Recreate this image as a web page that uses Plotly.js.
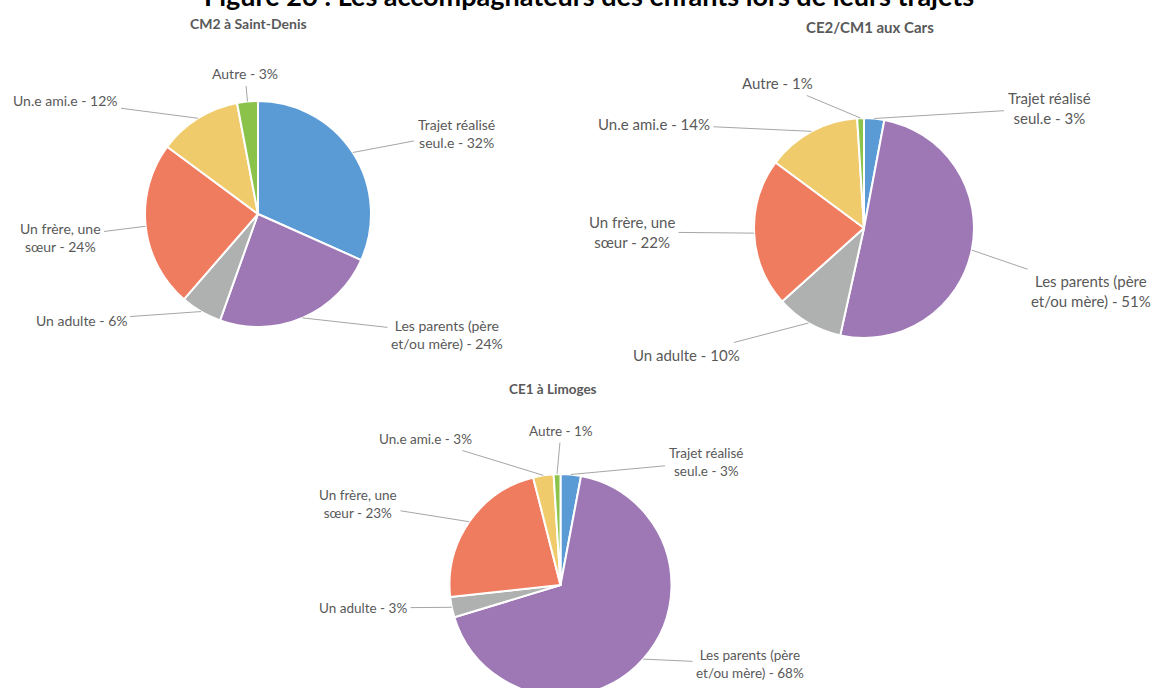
<!DOCTYPE html>
<html><head><meta charset="utf-8">
<script src="https://cdn.plot.ly/plotly-3.0.1.min.js"></script>
<style>html,body{margin:0;padding:0;overflow:hidden;background:#fff}#chart{width:1157px;height:700px}</style>
</head><body><div id="chart"></div>
<script>
// ---- data ----
const categories = ["Trajet réalisé seul.e", "Les parents (père et/ou mère)", "Un adulte", "Un frère, une sœur", "Un.e ami.e", "Autre"];
const labelLines = ["Trajet réalisé<br>seul.e", "Les parents (père<br>et/ou mère)", "Un adulte", "Un frère, une<br>sœur", "Un.e ami.e", "Autre"];
const sliceColors = ["#5B9BD5", "#9E78B5", "#AEB1B0", "#F07C60", "#F0CB6C", "#8BC34A"];
const titleMain = "Figure 26 : Les accompagnateurs des enfants lors de leurs trajets";
const pieTitles = ["CM2 à Saint-Denis", "CE2/CM1 aux Cars", "CE1 à Limoges"];
const valuesSaintDenis = [32, 24, 6, 24, 12, 3];
const valuesCars = [3, 51, 10, 22, 14, 1];
const valuesLimoges = [3, 68, 3, 23, 3, 1];

// ---- layout config (pixels) ----
const W = 1157, H = 700;
const FONT = "Lato, 'Open Sans', sans-serif";
const pies = [
  {values: valuesSaintDenis, title: pieTitles[0], cx: 258, cy: 214, r: 113, titlePos: [249, 24], tfs: 14, fs: 14,
   labelPos: [[456, 133], [447, 334], [81, 320], [60, 237], [65, 101], [245, 74]]},
  {values: valuesCars, title: pieTitles[1], cx: 864, cy: 228, r: 110, titlePos: [870, 27], tfs: 15, fs: 15,
   labelPos: [[1049, 108], [1091, 291], [686, 355], [632, 232], [654, 124], [777, 83]]},
  {values: valuesLimoges, title: pieTitles[2], cx: 560.5, cy: 585, r: 111, titlePos: [553, 389], tfs: 13.5, fs: 13.5,
   labelPos: [[706, 462], [750, 664], [363, 608], [358, 504], [425, 439], [561, 431]]}
];

const traces = [];
const annotations = [];
pies.forEach(p => {
  traces.push({
    type: 'pie', values: p.values, labels: categories, sort: false, direction: 'clockwise', rotation: 0,
    marker: {colors: sliceColors, line: {color: '#ffffff', width: 2}},
    textinfo: 'none', hoverinfo: 'label+percent', showlegend: false,
    domain: {x: [(p.cx - p.r) / W, (p.cx + p.r) / W], y: [1 - (p.cy + p.r) / H, 1 - (p.cy - p.r) / H]}
  });
  annotations.push({
    xref: 'paper', yref: 'paper', x: p.titlePos[0] / W, y: 1 - p.titlePos[1] / H,
    xanchor: 'center', yanchor: 'middle', showarrow: false,
    text: '<b>' + p.title + '</b>', font: {family: FONT, size: p.tfs, color: '#595959'}
  });
  const total = p.values.reduce((a, b) => a + b, 0);
  let cum = 0;
  p.values.forEach((v, i) => {
    const theta = (cum + v / 2) / total * 2 * Math.PI;
    cum += v;
    const px = p.cx + p.r * Math.sin(theta);
    const py = p.cy - p.r * Math.cos(theta);
    const [tx, ty] = p.labelPos[i];
    annotations.push({
      xref: 'paper', yref: 'paper', x: px / W, y: 1 - py / H,
      axref: 'pixel', ayref: 'pixel', ax: tx - px, ay: ty - py,
      showarrow: true, arrowhead: 0, arrowwidth: 1, arrowcolor: '#A6A6A6', standoff: 0, borderpad: 3,
      text: labelLines[i] + ' - ' + v + '%', align: 'center',
      font: {family: FONT, size: p.fs, color: '#595959'}
    });
  });
});
annotations.push({
  xref: 'paper', yref: 'paper', x: 589 / W, y: 1 - 14 / H, xanchor: 'center', yanchor: 'bottom',
  showarrow: false, text: '<b>' + titleMain + '</b>', font: {family: FONT, size: 27, color: '#000000'}
});

Plotly.newPlot('chart', traces, {
  width: W, height: H, margin: {l: 0, r: 0, t: 0, b: 0},
  paper_bgcolor: '#ffffff', plot_bgcolor: '#ffffff', annotations: annotations
}, {displayModeBar: false, staticPlot: true});
</script></body></html>
